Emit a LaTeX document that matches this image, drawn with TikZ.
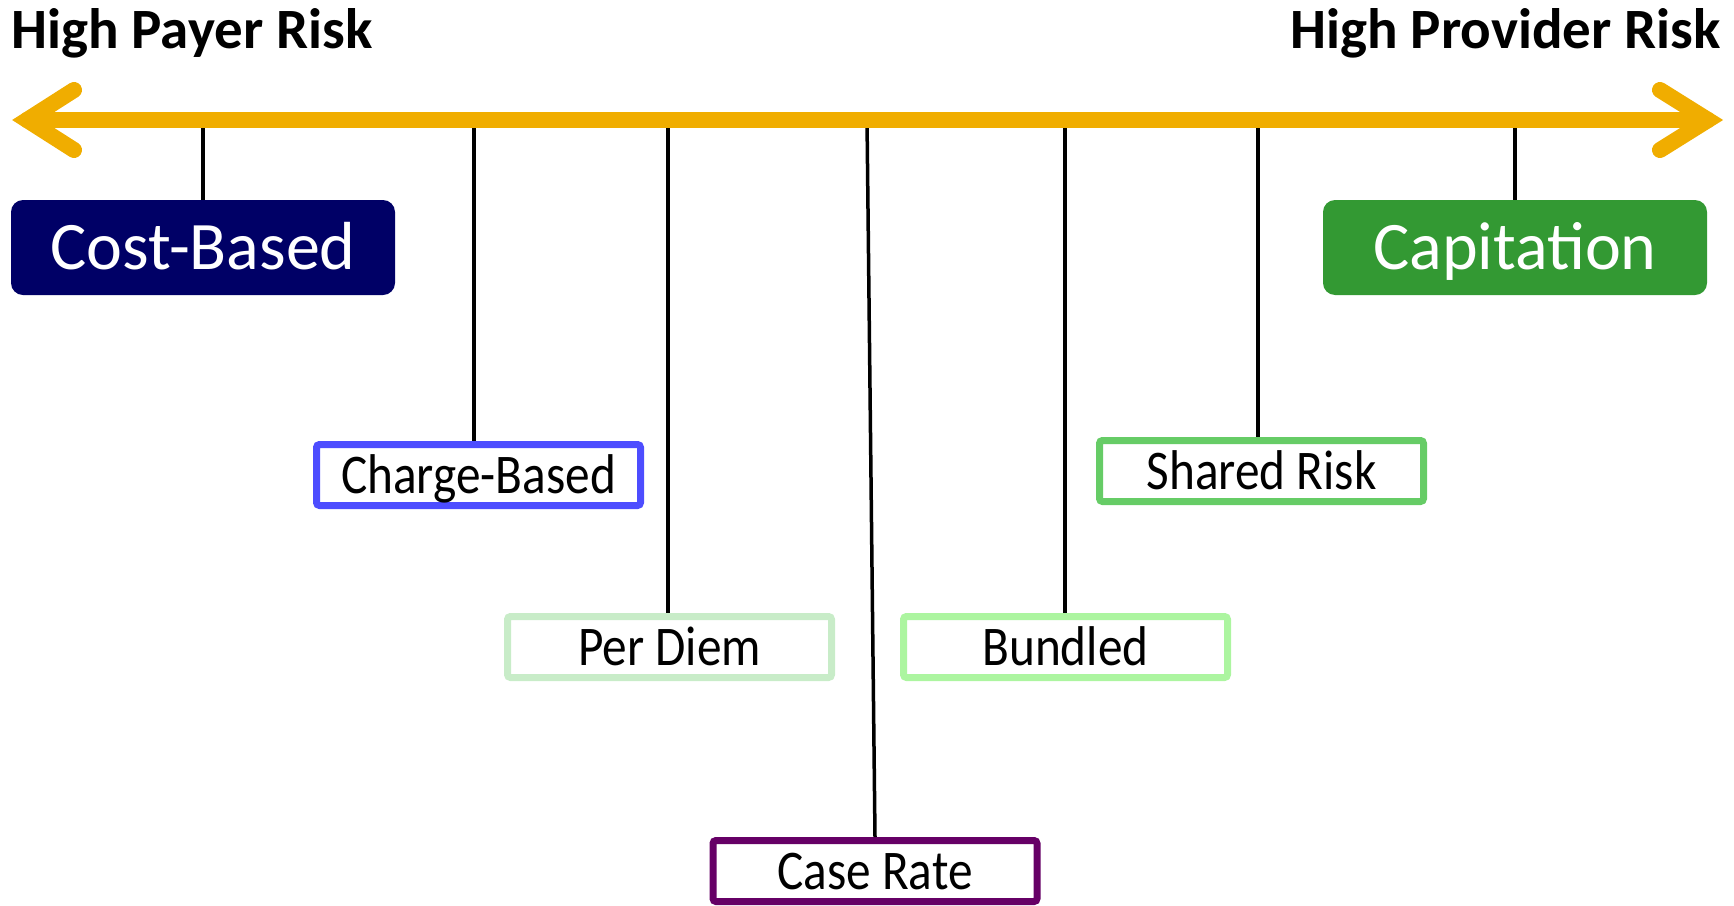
\documentclass[tikz,border=0pt]{standalone}
\usepackage{fontspec}
\setmainfont{Carlito}
\newfontfamily\boxfont[FakeStretch=0.88]{Carlito}
\definecolor{navybox}{RGB}{0,0,102}
\definecolor{capgreen}{RGB}{51,153,51}
\definecolor{chargeblue}{RGB}{77,77,255}
\definecolor{perdiemc}{RGB}{200,236,200}
\definecolor{casepurple}{RGB}{102,0,102}
\definecolor{bundledc}{RGB}{172,245,160}
\definecolor{sharedc}{RGB}{102,204,102}
\definecolor{arrowc}{RGB}{240,173,0}
\begin{document}
\begin{tikzpicture}[x=1pt,y=-1pt,
  bigbox/.style={rounded corners=12pt, minimum width=384pt, minimum height=95pt, inner sep=0pt,
    text=white, font=\fontsize{68}{72}\selectfont, text height=43pt, text depth=0pt},
  smallbox/.style={draw, fill=white, line width=7pt, rounded corners=3pt, minimum width=324pt, minimum height=61pt,
    inner sep=0pt, font=\boxfont\fontsize{56}{60}\selectfont, text height=36pt, text depth=0pt},
  stemline/.style={line width=3.5pt, black},
  axisline/.style={line width=16pt, arrowc, line cap=round, line join=miter},
  heading/.style={inner sep=0pt, font=\bfseries\fontsize{57}{60}\selectfont}
]
\useasboundingbox (0,0) rectangle (1734,905);

% headings
\node[heading, anchor=base west] (hpayer) at (11,48) {High Payer Risk};
\node[heading, anchor=base east] (hprov) at (1721,48) {High Provider Risk};

% boxes
\node[bigbox, fill=navybox] (cost) at (203,247.5) {Cost-Based};
\node[bigbox, fill=capgreen] (cap) at (1515,247.5) {Capitation};
\node[smallbox, draw=chargeblue] (charge) at (478.5,475) {Charge-Based};
\node[smallbox, draw=perdiemc] (perdiem) at (669.5,647) {Per Diem};
\node[smallbox, draw=casepurple] (case) at (875,871) {Case Rate};
\node[smallbox, draw=bundledc] (bundled) at (1065.5,647) {Bundled};
\node[smallbox, draw=sharedc] (shared) at (1261.5,471) {Shared Risk};

% attachment points on the axis
\coordinate (tcost) at (203,120);
\coordinate (tcharge) at (474,120);
\coordinate (tperdiem) at (668,120);
\coordinate (tcase) at (867,120);
\coordinate (tbundled) at (1065,120);
\coordinate (tshared) at (1258,120);
\coordinate (tcap) at (1515,120);

% stems
\draw[stemline] (tcost) -- (cost.north);
\draw[stemline] (tcharge) -- (tcharge |- charge.north);
\draw[stemline] (tperdiem) -- (tperdiem |- perdiem.north);
\draw[stemline] (tcase) -- (case.north);
\draw[stemline] (tbundled) -- (tbundled |- bundled.north);
\draw[stemline] (tshared) -- (tshared |- shared.north);
\draw[stemline] (tcap) -- (cap.north);

% double arrow axis
\coordinate (axL) at (27,120);
\coordinate (axR) at (1708,120);
\coordinate (armLt) at (74,90);
\coordinate (armLb) at (74,150);
\coordinate (armRt) at (1660,90);
\coordinate (armRb) at (1660,150);
\draw[axisline] (axL) -- (axR);
\draw[axisline] (armLt) -- (axL) -- (armLb);
\draw[axisline] (armRt) -- (axR) -- (armRb);
\end{tikzpicture}
\end{document}
